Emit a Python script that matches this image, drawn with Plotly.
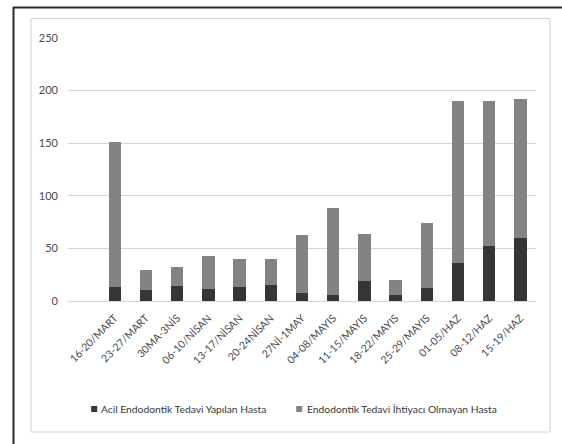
import plotly.graph_objects as go

# Weekly patient counts
weeks = ["16-20/MART", "23-27/MART", "30MA-3NİS", "06-10/NİSAN", "13-17/NİSAN",
         "20-24NİSAN", "27Nİ-1MAY", "04-08/MAYIS", "11-15/MAYIS", "18-22/MAYIS",
         "25-29/MAYIS", "01-05/HAZ", "08-12/HAZ", "15-19/HAZ"]
acil = [13, 10, 14, 11, 13, 15, 8, 6, 19, 6, 12, 36, 52, 60]
ihtiyac_yok = [138, 19, 18, 32, 27, 25, 55, 82, 45, 14, 62, 154, 138, 132]
series_names = ["Acil Endodontik Tedavi Yapılan Hasta",
                "Endodontik Tedavi İhtiyacı Olmayan Hasta"]
y_ticks = [0, 50, 100, 150, 200, 250]

DARK = "#363636"
GREY = "#838383"
FONT = "Lato, Liberation Sans, sans-serif"

W, H = 562, 444
L, R, T, B = 68, 26, 38, 143
PW, PH = W - L - R, H - T - B


def px(x):
    return (x - L) / PW


def py(y):
    return (H - B - y) / PH


fig = go.Figure()
fig.add_trace(go.Bar(x=weeks, y=acil, name=series_names[0],
                     marker=dict(color=DARK, line=dict(width=0)), showlegend=False))
fig.add_trace(go.Bar(x=weeks, y=ihtiyac_yok, name=series_names[1],
                     marker=dict(color=GREY, line=dict(width=0)), showlegend=False))

shapes = [
    # outer frame (left and top edges)
    dict(type="line", xref="paper", yref="paper", x0=px(13.5), x1=px(13.5),
         y0=py(7), y1=py(450), line=dict(color="#2a2a2a", width=2)),
    dict(type="line", xref="paper", yref="paper", x0=px(13), x1=px(570),
         y0=py(7.5), y1=py(7.5), line=dict(color="#2a2a2a", width=2)),
    # chart area border
    dict(type="rect", xref="paper", yref="paper", x0=px(31), x1=px(550),
         y0=py(432), y1=py(18.5), line=dict(color="#d4d4d4", width=1)),
]

annotations = []
legend_items = [(94.2, 98.5, DARK, series_names[0]), (299.2, 304.5, GREY, series_names[1])]
for cx, tx, col, name in legend_items:
    shapes.append(dict(type="rect", xref="paper", yref="paper",
                       x0=px(cx - 3), x1=px(cx + 3), y0=py(412), y1=py(406),
                       fillcolor=col, line=dict(width=0)))
    annotations.append(dict(xref="paper", yref="paper", x=px(tx), y=py(409),
                            xanchor="left", yanchor="middle", showarrow=False,
                            text=name, font=dict(family=FONT, size=10.3, color="#383838")))

fig.update_layout(
    width=W, height=H,
    margin=dict(l=L, r=R, t=T, b=B),
    paper_bgcolor="white", plot_bgcolor="white",
    barmode="stack", bargap=0.6,
    font=dict(family=FONT, size=10.5, color="#595959"),
    shapes=shapes, annotations=annotations,
    showlegend=False,
)
fig.update_xaxes(range=[-1.5, 13.5], tickangle=-45, showgrid=False, showline=False,
                 ticks="", ticklabelstandoff=8, tickfont=dict(size=10.5, color="#4a4a4a"))
fig.update_yaxes(range=[0, 250], tickvals=y_ticks, showgrid=True, gridcolor="#d6d6d6",
                 gridwidth=1, zeroline=True, zerolinecolor="#d6d6d6", zerolinewidth=1,
                 showline=False, ticks="", ticklabelstandoff=9,
                 tickfont=dict(size=11, color="#4a4a4a"))

fig.write_html("out.html")
